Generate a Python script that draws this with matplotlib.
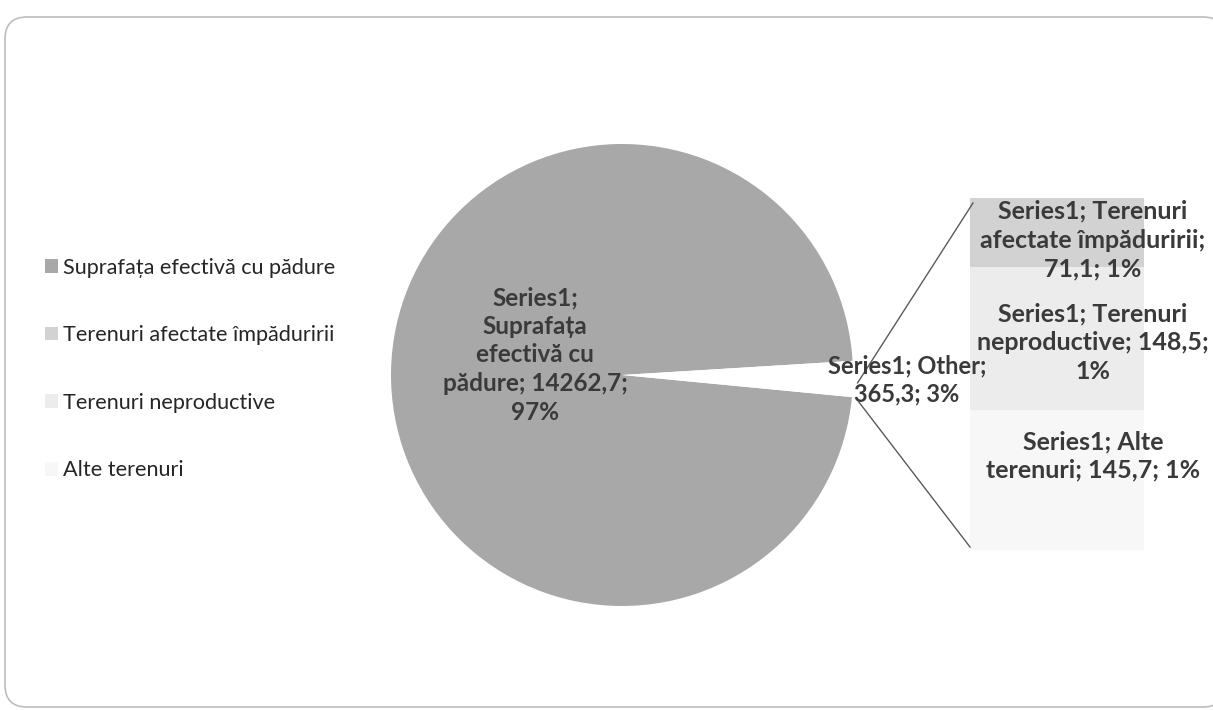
import matplotlib
matplotlib.use("Agg")
import matplotlib.pyplot as plt
from matplotlib.patches import Patch, FancyBboxPatch
import numpy as np

# Data
categories = ["Suprafața efectivă cu pădure", "Terenuri afectate împăduririi",
              "Terenuri neproductive", "Alte terenuri"]
values = [14262.7, 71.1, 148.5, 145.7]
percent_labels = ["97%", "1%", "1%", "1%"]
other_value = 365.3
other_percent = "3%"

colors = ["#a8a8a8", "#d2d2d2", "#ececec", "#f7f7f7"]

plt.rcParams["font.family"] = ["Lato", "DejaVu Sans"]

fig = plt.figure(figsize=(12.13, 7.10), dpi=100)
ax = fig.add_axes([0, 0, 1, 1])

# chart frame
frame = FancyBboxPatch((5, 3), 1220, 690, boxstyle="round,pad=0,rounding_size=22",
                       facecolor="white", edgecolor="#bdbdbd", linewidth=1.2)
ax.add_patch(frame)

# Pie: main slice + "Other"
pie_center = (622, 335)
pie_radius = 231
wedges, _ = ax.pie([values[0], other_value], colors=[colors[0], "white"],
                   startangle=3.5, center=pie_center, radius=pie_radius,
                   wedgeprops=dict(linewidth=0))

# Bar of the "Other" group (stacked, top -> bottom: afectate, neproductive, alte)
bar_x = 1057
bar_w = 174
bar_bottom = 160
scale = 352 / other_value
stack = [3, 2, 1]
bottom = bar_bottom
for i in stack:
    h = values[i] * scale
    ax.bar(bar_x, h, width=bar_w, bottom=bottom, color=colors[i], linewidth=0)
    bottom += h
bar_top = bottom

# connector lines
w = wedges[1]
t1, t2 = np.radians(w.theta1), np.radians(w.theta2)
p_low = (pie_center[0] + pie_radius * np.cos(t1), pie_center[1] + pie_radius * np.sin(t1))
p_up = (pie_center[0] + pie_radius * np.cos(t2), pie_center[1] + pie_radius * np.sin(t2))
ax.plot([p_up[0] + 5, bar_x - bar_w / 2 + 3], [p_up[1] - 22, bar_top - 5], color="#5a5a5a", lw=1)
ax.plot([p_low[0] + 7, bar_x - bar_w / 2], [p_low[1] - 5, bar_bottom + 3], color="#5a5a5a", lw=1)

# data labels
lab_kw = dict(fontweight="bold", color="#3a3a3a", ha="center", va="center",
              linespacing=1.3)
ax.text(535, 355, "Series1;\nSuprafața\nefectivă cu\npădure; 14262,7;\n" + percent_labels[0],
        fontsize=17.5, **lab_kw)
ax.text(907, 330, "Series1; Other;\n365,3; " + other_percent, fontsize=17, **lab_kw)
ax.text(1093, 470, "Series1; Terenuri\nafectate împăduririi;\n71,1; " + percent_labels[1],
        fontsize=18, **lab_kw)
ax.text(1093, 367, "Series1; Terenuri\nneproductive; 148,5;\n" + percent_labels[2],
        fontsize=18, **lab_kw)
ax.text(1093, 254, "Series1; Alte\nterenuri; 145,7; " + percent_labels[3],
        fontsize=18, **lab_kw)

# legend
handles = [Patch(facecolor=c, edgecolor="none") for c in colors]
leg = ax.legend(handles, categories, loc="center left", bbox_to_anchor=(34, 341),
                bbox_transform=ax.transData, frameon=False, fontsize=15.6,
                labelspacing=2.2, handlelength=0.6, handleheight=0.6,
                handletextpad=0.25, borderpad=0)
for t in leg.get_texts():
    t.set_color("#262626")

ax.set_xlim(0, 1213)
ax.set_ylim(0, 710)
ax.set_aspect("equal")
ax.axis("off")

fig.savefig("out.png", dpi=100)
